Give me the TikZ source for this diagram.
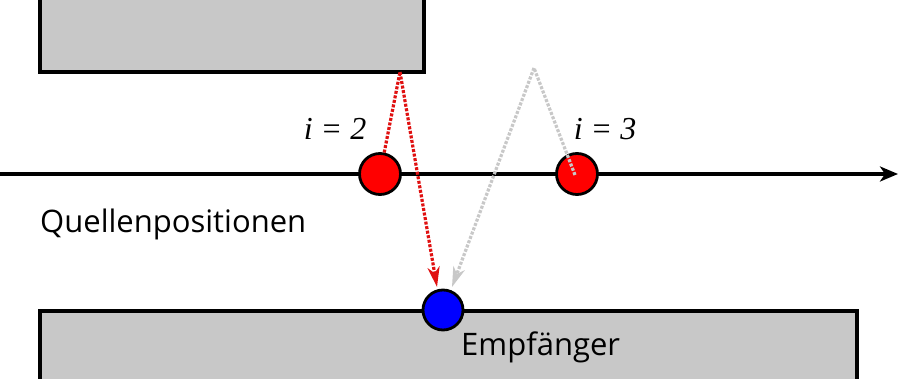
\documentclass[tikz,border=0pt]{standalone}
\usepackage{fontspec}
\setmainfont{Liberation Serif}
\newfontfamily\labfont{Open Sans}
\usetikzlibrary{arrows.meta}
\definecolor{wallgray}{HTML}{C8C8C8}
\definecolor{raygray}{HTML}{C8C8C8}
\definecolor{rayred}{HTML}{E01010}
\tikzset{
  wall/.style={fill=wallgray, draw=black, line width=3.2pt},
  srcnode/.style={circle, fill=red, draw=black, line width=2.8pt, minimum size=41pt, inner sep=0pt},
  rcvnode/.style={circle, fill=blue, draw=black, line width=2.8pt, minimum size=40pt, inner sep=0pt},
  redray/.style={draw=rayred, line width=3.2pt, dash pattern=on 3pt off 1.6pt},
  grayray/.style={draw=raygray, line width=3.2pt, dash pattern=on 3pt off 1.6pt},
  tipred/.style={-{Stealth[length=20pt,width=12pt,inset=6pt,fill=rayred]}},
  tipgray/.style={-{Stealth[length=20pt,width=12pt,inset=6pt,fill=raygray]}},
  idxlabel/.style={font=\itshape\fontsize{32}{36}\selectfont, inner sep=0pt, anchor=base},
  txtlabel/.style={font=\labfont\fontsize{31}{36}\selectfont, inner sep=0pt, anchor=base west}
}
\begin{document}
\begin{tikzpicture}[x=1pt,y=-1pt]
\useasboundingbox (0,0) rectangle (903,379);
\fill[white] (0,0) rectangle (903,379);
% walls
\draw[wall] (40,-10) rectangle (424,72);
\draw[wall] (40,311) rectangle (857,395);
% axis
\coordinate (axL) at (0,174);
\coordinate (axR) at (898,174);
\draw[line width=3.2pt, -{Stealth[length=18pt,width=15pt,inset=5pt]}] (axL) -- (axR);
% nodes
\node[srcnode] (s2) at (380,174) {};
\node[srcnode] (s3) at (577,174) {};
\coordinate (r2) at (400,72);
\coordinate (r3) at (534,68);
\coordinate (tipR) at (437,287);
\coordinate (tipG) at (452,287);
% rays
\draw[redray] (s2) -- (r2);
\draw[redray, tipred] (r2) -- (tipR);
\draw[grayray] ([xshift=-2pt,yshift=-1pt]s3.center) -- (r3);
\draw[grayray, tipgray] (r3) -- (tipG);
\node[rcvnode] (rcv) at (443,310) {};
% labels
\node[idxlabel] (l2) at (335,140) {i = 2};
\node[idxlabel] (l3) at (605,140) {i = 3};
\node[txtlabel] (q) at (40,233) {Quellenpositionen};
\node[txtlabel] (e) at (461,356) {Empfänger};
\end{tikzpicture}
\end{document}
